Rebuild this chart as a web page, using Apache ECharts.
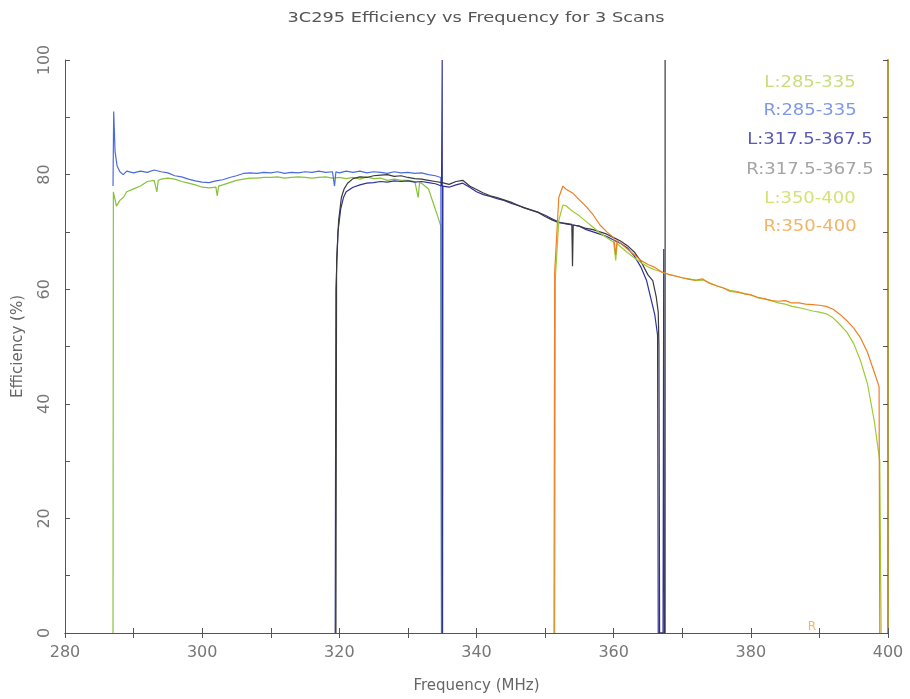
<!DOCTYPE html>
<html><head><meta charset="utf-8">
<script src="https://cdn.jsdelivr.net/npm/echarts@6/dist/echarts.min.js"></script>
<style>html,body{margin:0;padding:0;background:#fff}#c{width:910px;height:699px}</style>
</head><body><div id="c"></div>
<script>
const titleText = '3C295 Efficiency vs Frequency for 3 Scans';
const xTicks = [280, 300, 320, 340, 360, 380, 400];
const yTicks = [0, 20, 40, 60, 80, 100];
const seriesNames = ['L:285-335', 'R:285-335', 'L:317.5-367.5', 'R:317.5-367.5', 'L:350-400', 'R:350-400'];

// L:285-335
const freqL1 = [287.0,287.05,287.5,288,288.5,289,290,291,292,293,293.4,293.6,294,295,296,297,298,299,300,301,302,302.2,302.4,303,304,305,306,307,308,309,310,311,312,313,314,315,316,317,318,319,320,321,322,323,324,325,326,327,328,329,330,331,331.5,331.7,332,333,333.7,334.4,334.8,334.9];
const effL1  = [0,77,74.5,75.5,76,77,77.5,78,78.8,79,77,79,79.2,79.4,79.2,78.8,78.5,78.2,77.8,77.7,77.8,76.3,78,78.2,78.6,79,79.2,79.4,79.4,79.5,79.5,79.6,79.4,79.5,79.6,79.5,79.4,79.5,79.6,79.4,79.5,79.3,79.5,79.2,79.6,79.3,79.4,79,79.2,79,79,78.8,76,78.6,78.5,77.5,75,72.5,71,0];
// R:285-335
const freqR1 = [287.0,287.1,287.3,287.6,288,288.5,289,290,291,292,293,294,295,296,297,298,299,300,301,302,303,304,305,306,307,308,309,310,311,312,313,314,315,316,317,318,319,319.3,319.5,320,321,322,323,324,325,326,327,328,329,330,331,332,333,334,334.8,334.9];
const effR1  = [78,91,84,81.5,80.5,80,80.6,80.3,80.6,80.4,80.8,80.5,80.3,79.8,79.6,79.2,78.9,78.7,78.6,78.9,79.1,79.5,79.8,80.2,80.3,80.2,80.4,80.3,80.5,80.2,80.4,80.3,80.5,80.4,80.6,80.4,80.5,78,80.5,80.3,80.6,80.4,80.6,80.3,80.5,80.4,80.2,80.5,80.3,80.4,80.2,80.3,80,79.8,79.5,0];
// L:317.5-367.5
const freqL2 = [319.4,319.5,319.8,320.2,320.6,321,322,323,324,325,326,327,328,329,330,331,332,333,334,334.9,335,335.05,335.1,336,337,338,339,340,341,342,343,344,345,346,347,348,349,350,351,352,353,354,355,356,357,358,359,360,361,362,363,364,364.8,365.5,366,366.4,366.5,367.2,367.3,367.4];
const effL2  = [0,60,70,74,76,77,77.8,78.2,78.5,78.6,78.8,78.7,78.9,78.8,78.9,78.7,78.8,78.6,78.4,78,100,0,78,77.8,78.2,78.5,77.8,77,76.5,76.2,75.8,75.5,75,74.6,74.2,73.8,73.4,72.9,72.3,71.7,71.4,71.2,71,70.4,70,69.6,69.2,68.6,68,67.2,65.8,63.8,61.5,58,55.5,52,0,0,67,0];
// R:317.5-367.5
const freqR2 = [319.5,319.6,319.9,320.3,320.7,321.2,322,323,324,325,326,327,328,329,330,331,332,333,334,335,336,337,338,339,340,341,342,343,344,345,346,347,348,349,350,351,352,353,353.9,354,354.1,355,356,357,358,359,360,361,362,363,364,365,365.7,366.2,366.5,366.6,366.7,367.5,367.5];
const effR2  = [0,65,72,76,77.5,78.5,79.3,79.6,79.5,79.8,79.9,80,79.7,79.8,79.5,79.3,79.2,79,78.8,78.6,78.3,78.8,79,78,77.4,76.8,76.3,76,75.6,75.2,74.7,74.2,73.8,73.4,72.7,72.1,71.6,71.5,71.3,64,71.2,71,70.6,70.4,70,69.6,69,68.4,67.6,66.5,64.8,62.5,61.5,58.7,56,50,0,0,100];
// L:350-400
const freqL3 = [351.4,351.5,352,352.6,353,354,355,356,357,358,359,360,360.3,360.5,361,362,363,364,365,366,367,368,369,370,371,372,373,374,375,376,377,378,379,380,381,382,383,384,385,386,387,388,389,390,391,392,393,394,395,396,397,398,398.8,399];
const effL3  = [0,62,72,74.7,74.6,73.6,72.8,71.8,70.8,69.8,69,68.2,65,68,67.4,66.4,65.5,64.6,63.9,63.4,63,62.6,62.3,62,61.8,61.5,61.6,61.1,60.6,60.2,59.8,59.6,59.3,59,58.5,58.3,58,57.6,57.4,57,56.8,56.5,56.2,56,55.7,55,53.8,52.5,50.5,47.5,43.5,37,30,0];
// R:350-400
const freqR3 = [351.3,351.4,352,352.6,353,354,355,356,357,358,359,360,360.3,360.5,361,362,363,364,365,366,367,368,369,370,371,372,373,374,375,376,377,378,379,380,381,382,383,384,385,386,387,388,389,390,391,392,393,394,395,396,397,398,398.7,398.8];
const effR3  = [0,63,76,78,77.5,76.8,75.6,74.4,73,71.2,70,69,66,68.5,68,67,66,65,64.3,63.8,63,62.6,62.3,62,61.7,61.6,61.8,61,60.6,60.2,59.6,59.5,59.2,59,58.6,58.3,58,57.9,58,57.6,57.6,57.4,57.3,57.2,57,56.5,55.6,54.5,53.2,51.5,49,45.5,43,0];

const lineColors = ['#86c23a', '#4a6be0', '#30309a', '#3a3a3a', '#9ccc30', '#f07e22'];
const legendColors = ['#c8de78', '#7f98e6', '#5a5ab4', '#a4a4a4', '#d6e274', '#f2b466'];

const pairs = (xs, ys) => xs.map((x, i) => [x, ys[i]]);
const allData = [pairs(freqL1, effL1), pairs(freqR1, effR1), pairs(freqL2, effL2), pairs(freqR2, effR2), pairs(freqL3, effL3), pairs(freqR3, effR3)];

const chart = echarts.init(document.getElementById('c'));
const FONT = '"DejaVu Sans", sans-serif';
const legendY = [83, 111, 140, 170, 199, 227];
const graphics = seriesNames.map((n, i) => ({
  type: 'text', z: 100, x: 810, y: legendY[i], scaleX: 1.2,
  style: { x: 0, y: 0, text: n, textAlign: 'center', textVerticalAlign: 'middle', fill: legendColors[i], font: '15px ' + FONT }
}));
graphics.push({ type: 'text', z: 100, x: 476, y: 18, scaleX: 1.27,
  style: { x: 0, y: 0, text: titleText, textAlign: 'center', textVerticalAlign: 'middle', fill: '#555', font: '14px ' + FONT } });
graphics.push({ type: 'text', z: 100, x: 812, y: 627, style: { x: 0, y: 0, text: 'R', textAlign: 'center', textVerticalAlign: 'middle', fill: '#f5b560', font: '12px ' + FONT } });

const tickCommon = { show: true, inside: true, length: 5, lineStyle: { color: '#555' } };
chart.setOption({
  animation: false,
  grid: { left: 65, right: 22, top: 60, bottom: 66 },
  xAxis: [
    { type: 'value', min: 280, max: 400, interval: 20, position: 'bottom',
      name: 'Frequency (MHz)', nameLocation: 'middle', nameGap: 46,
      nameTextStyle: { color: '#666', fontFamily: FONT, fontSize: 15 },
      axisLine: { show: true, lineStyle: { color: '#555' } },
      axisTick: tickCommon, minorTick: { show: true, splitNumber: 2, length: 5, lineStyle: { color: '#555' } },
      axisLabel: { color: '#777', fontFamily: FONT, fontSize: 16, margin: 12, customValues: xTicks },
      splitLine: { show: false } },
    { type: 'value', min: 280, max: 400, interval: 20, position: 'top',
      axisLine: { show: true, lineStyle: { color: '#555' } },
      axisTick: tickCommon, minorTick: { show: true, splitNumber: 2, length: 5, lineStyle: { color: '#555' } },
      axisLabel: { show: false }, splitLine: { show: false } }
  ],
  yAxis: [
    { type: 'value', min: 0, max: 100, interval: 20, position: 'left',
      name: 'Efficiency (%)', nameLocation: 'middle', nameGap: 39,
      nameTextStyle: { color: '#666', fontFamily: FONT, fontSize: 15 },
      axisLine: { show: true, lineStyle: { color: '#555' } },
      axisTick: tickCommon, minorTick: { show: true, splitNumber: 2, length: 5, lineStyle: { color: '#555' } },
      axisLabel: { color: '#777', fontFamily: FONT, fontSize: 16, margin: 12, rotate: 90, customValues: yTicks },
      splitLine: { show: false } },
    { type: 'value', min: 0, max: 100, interval: 20, position: 'right',
      axisLine: { show: true, lineStyle: { color: '#b8963c', width: 2 } },
      axisTick: tickCommon, minorTick: { show: true, splitNumber: 2, length: 5, lineStyle: { color: '#555' } },
      axisLabel: { show: false }, splitLine: { show: false } }
  ],
  series: allData.map((d, i) => ({
    name: seriesNames[i], type: 'line', data: d, showSymbol: false, symbol: 'none',
    lineStyle: { color: lineColors[i], width: 1.2 }, z: 2 + i
  })),
  graphic: graphics
});
</script></body></html>
